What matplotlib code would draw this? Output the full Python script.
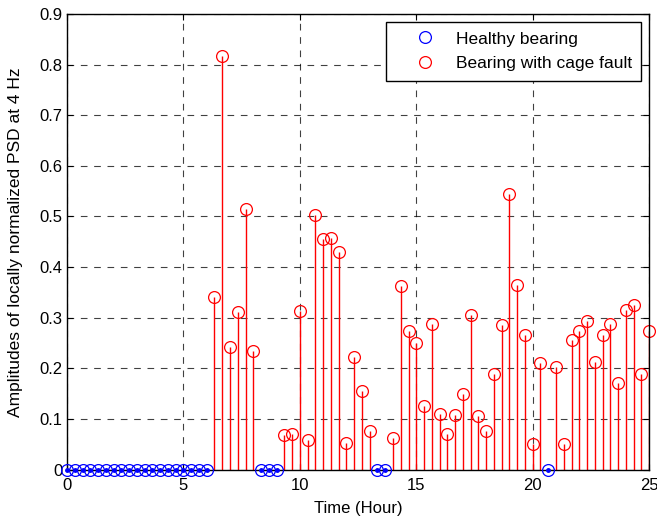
import matplotlib
matplotlib.use("Agg")
import matplotlib.pyplot as plt
from matplotlib.lines import Line2D

healthy_hours = [0.0, 0.33, 0.67, 1.0, 1.33, 1.67, 2.0, 2.33, 2.67, 3.0, 3.33, 3.67,
                 4.0, 4.33, 4.67, 5.0, 5.33, 5.67, 6.0, 8.33, 8.67, 9.0, 13.33, 13.67, 20.67]
healthy_values = [0.0] * len(healthy_hours)

fault_hours = [6.33, 6.67, 7.0, 7.33, 7.67, 8.0,
               9.33, 9.67, 10.0, 10.33, 10.67, 11.0, 11.33, 11.67, 12.0, 12.33, 12.67, 13.0,
               14.0, 14.33, 14.67, 15.0, 15.33, 15.67, 16.0, 16.33, 16.67, 17.0, 17.33, 17.67,
               18.0, 18.33, 18.67, 19.0, 19.33, 19.67, 20.0, 20.33,
               21.0, 21.33, 21.67, 22.0, 22.33, 22.67, 23.0, 23.33, 23.67, 24.0, 24.33, 24.67, 25.0]
fault_values = [0.340, 0.817, 0.242, 0.312, 0.515, 0.235,
                0.068, 0.071, 0.313, 0.058, 0.502, 0.455, 0.457, 0.430, 0.052, 0.223, 0.155, 0.076,
                0.063, 0.362, 0.273, 0.251, 0.126, 0.288, 0.110, 0.070, 0.107, 0.150, 0.305, 0.105,
                0.076, 0.189, 0.286, 0.544, 0.365, 0.265, 0.050, 0.210,
                0.202, 0.050, 0.255, 0.273, 0.294, 0.212, 0.265, 0.288, 0.171, 0.315, 0.326, 0.189, 0.273]

x_ticks = [0, 5, 10, 15, 20, 25]
y_ticks = [0, 0.1, 0.2, 0.3, 0.4, 0.5, 0.6, 0.7, 0.8, 0.9]
y_tick_labels = ["0", "0.1", "0.2", "0.3", "0.4", "0.5", "0.6", "0.7", "0.8", "0.9"]

plt.rcParams['font.family'] = ['Liberation Sans', 'DejaVu Sans']

fig = plt.figure(figsize=(6.57, 5.2), dpi=100)
ax = fig.add_axes([0.102, 0.097, 0.886, 0.876])

ax.vlines(fault_hours, 0, fault_values, colors='red', linewidth=1.0, zorder=3)
ax.plot(fault_hours, fault_values, linestyle='none', marker='o', markersize=8.5,
        markerfacecolor='none', markeredgecolor='red', markeredgewidth=0.9, zorder=4, clip_on=False)
ax.plot(healthy_hours, healthy_values, linestyle='none', marker='o', markersize=8.5,
        markerfacecolor='none', markeredgecolor='blue', markeredgewidth=0.9, zorder=6, clip_on=False)
ax.plot(healthy_hours, healthy_values, linestyle='none', marker='o', markersize=2.5,
        markerfacecolor='blue', markeredgecolor='blue', zorder=6, clip_on=False)

ax.set_xlim(0, 25)
ax.set_ylim(0, 0.9)
ax.set_xticks(x_ticks)
ax.set_yticks(y_ticks)
ax.set_yticklabels(y_tick_labels)
ax.tick_params(direction='in', length=4, labelsize=12, top=True, right=True, width=0.8, pad=3)
ax.tick_params(axis='x', pad=6)
ax.grid(True, color='black', linestyle=(0, (6, 6)), linewidth=0.8, alpha=0.75)
ax.set_axisbelow(True)
for s in ax.spines.values():
    s.set_linewidth(1.0)
    s.set_zorder(5)

ax.set_xlabel("Time (Hour)", fontsize=12, labelpad=6)
ax.set_ylabel("Amplitudes of locally normalized PSD at 4 Hz", fontsize=12.5, labelpad=12)

handles = [Line2D([], [], linestyle='none', marker='o', markersize=8.5, markerfacecolor='none',
                  markeredgecolor='blue', markeredgewidth=0.9),
           Line2D([], [], linestyle='none', marker='o', markersize=8.5, markerfacecolor='none',
                  markeredgecolor='red', markeredgewidth=0.9)]
leg = ax.legend(handles, ["Healthy bearing", "Bearing with cage fault"], loc='upper right',
                fontsize=12.5, fancybox=False, framealpha=1, edgecolor='black',
                borderaxespad=0.45, handlelength=3.4, handletextpad=0.05, borderpad=0.55,
                labelspacing=0.55)
leg.get_frame().set_linewidth(1.0)
leg.set_zorder(10)

fig.savefig("out.png", dpi=100)
